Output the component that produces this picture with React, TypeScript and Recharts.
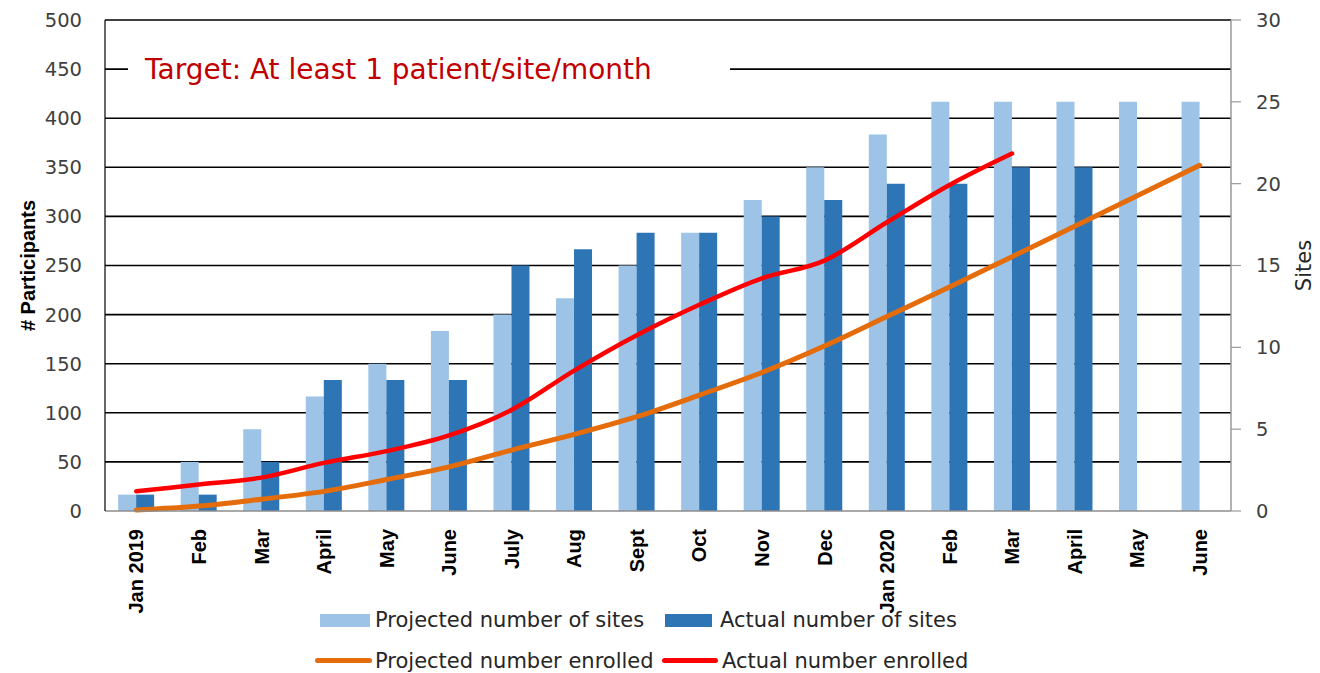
import React from 'react';
import {
  ComposedChart,
  Bar,
  Line,
  XAxis,
  YAxis,
  CartesianGrid,
  Legend,
} from 'recharts';

const months = [
  'Jan 2019', 'Feb', 'Mar', 'April', 'May', 'June', 'July', 'Aug', 'Sept',
  'Oct', 'Nov', 'Dec', 'Jan 2020', 'Feb', 'Mar', 'April', 'May', 'June',
];
const projectedSites = [1, 3, 5, 7, 9, 11, 12, 13, 15, 17, 19, 21, 23, 25, 25, 25, 25, 25];
const actualSites = [1, 1, 3, 8, 8, 8, 15, 16, 17, 17, 18, 19, 20, 20, 21, 21, null, null];
const projectedEnrolled = [1, 5, 12, 20, 32, 45, 62, 78, 96, 118, 141, 168, 198, 228, 259, 290, 321, 352];
const actualEnrolled = [20, 27, 34, 49, 61, 77, 103, 143, 179, 210, 237, 255, 294, 332, 364, null, null, null];

const participantTicks = [0, 50, 100, 150, 200, 250, 300, 350, 400, 450, 500];
const siteTicks = [0, 5, 10, 15, 20, 25, 30];

const data = months.map((m, i) => ({
  key: `${m}-${i}`,
  month: m,
  projectedSites: projectedSites[i],
  actualSites: actualSites[i],
  projectedEnrolled: projectedEnrolled[i],
  actualEnrolled: actualEnrolled[i],
}));

const LIGHT = '#9DC3E6';
const DARK = '#2E75B6';
const ORANGE = '#E46C0A';
const RED = '#FF0000';
const FONT = '"DejaVu Sans", sans-serif';
const BOLD_FONT = '"Liberation Sans", Arial, sans-serif';

const MonthTick = (props: any) => {
  const { x, y, payload } = props;
  const label = months[payload.index] ?? payload.value;
  return (
    <g transform={`translate(${x},${y})`}>
      <text
        transform="rotate(-90)"
        x={-16}
        y={0}
        dy="0.36em"
        textAnchor="end"
        fontFamily={BOLD_FONT}
        fontWeight="bold"
        fontSize={20}
        fill="#000"
      >
        {label}
      </text>
    </g>
  );
};

const legendText: React.CSSProperties = {
  position: 'absolute',
  fontFamily: FONT,
  fontSize: 21,
  color: '#262626',
  lineHeight: '24px',
  whiteSpace: 'nowrap',
};

const ChartLegend = () => (
  <div style={{ position: 'relative', width: 1312, height: 70 }}>
    <div style={{ position: 'absolute', left: 312, top: 11, width: 50, height: 13, background: LIGHT }} />
    <div style={{ ...legendText, left: 367, top: 5 }}>Projected number of sites</div>
    <div style={{ position: 'absolute', left: 657, top: 11, width: 47, height: 13, background: DARK }} />
    <div style={{ ...legendText, left: 712, top: 5 }}>Actual number of sites</div>
    <div style={{ position: 'absolute', left: 307, top: 55, width: 57, height: 5, borderRadius: 3, background: ORANGE }} />
    <div style={{ ...legendText, left: 367, top: 46 }}>Projected number enrolled</div>
    <div style={{ position: 'absolute', left: 654, top: 55, width: 56, height: 5, borderRadius: 3, background: RED }} />
    <div style={{ ...legendText, left: 714, top: 46 }}>Actual number enrolled</div>
  </div>
);

export default function App() {
  return (
    <div style={{ position: 'relative', width: 1312, height: 665 }}>
      <ComposedChart
        width={1312}
        height={665}
        data={data}
        margin={{ top: 12, right: 0, bottom: 0, left: 0 }}
        barCategoryGap="21%"
        barGap={0}
      >
        <CartesianGrid
          yAxisId="left"
          vertical={false}
          stroke="#000"
          strokeWidth={1.6}
          horizontalValues={participantTicks.slice(1)}
        />
        <XAxis
          dataKey="key"
          height={92}
          interval={0}
          axisLine={{ stroke: '#8c8c8c', strokeWidth: 1.5 }}
          tickLine={false}
          tickSize={0}
          tick={<MonthTick />}
        />
        <YAxis
          yAxisId="left"
          domain={[0, 500]}
          ticks={participantTicks}
          width={97}
          axisLine={{ stroke: '#000', strokeWidth: 1.2 }}
          tickLine={false}
          tickSize={0}
          tickMargin={23}
          tick={{ fontFamily: FONT, fontSize: 19.5, fill: '#404040' }}
          label={{
            value: '# Participants',
            angle: -90,
            position: 'insideLeft',
            offset: 20,
            style: { textAnchor: 'middle', fontFamily: BOLD_FONT, fontWeight: 'bold', fontSize: 20, fill: '#000' },
          }}
        />
        <YAxis
          yAxisId="right"
          orientation="right"
          domain={[0, 30]}
          ticks={siteTicks}
          width={89}
          axisLine={{ stroke: '#999', strokeWidth: 1.5 }}
          tickLine={{ stroke: '#999', strokeWidth: 1.2 }}
          tickSize={10}
          tickMargin={15}
          tick={{ fontFamily: FONT, fontSize: 19.5, fill: '#404040' }}
          label={{
            value: 'Sites',
            angle: -90,
            position: 'insideRight',
            offset: 16,
            style: { textAnchor: 'middle', fontFamily: FONT, fontSize: 21, fill: '#262626' },
          }}
        />
        <Legend verticalAlign="bottom" height={70} content={() => <ChartLegend />} />
        <Bar yAxisId="right" dataKey="projectedSites" name="Projected number of sites" fill={LIGHT} isAnimationActive={false} />
        <Bar yAxisId="right" dataKey="actualSites" name="Actual number of sites" fill={DARK} isAnimationActive={false} />
        <Line
          yAxisId="left"
          type="monotone"
          dataKey="projectedEnrolled"
          name="Projected number enrolled"
          stroke={ORANGE}
          strokeWidth={5}
          strokeLinecap="round"
          dot={false}
          activeDot={false}
          isAnimationActive={false}
        />
        <Line
          yAxisId="left"
          type="monotone"
          dataKey="actualEnrolled"
          name="Actual number enrolled"
          stroke={RED}
          strokeWidth={4.5}
          strokeLinecap="round"
          dot={false}
          activeDot={false}
          isAnimationActive={false}
        />
      </ComposedChart>
      <div
        style={{
          position: 'absolute',
          left: 120,
          top: 42,
          width: 585,
          paddingLeft: 17,
          height: 40,
          lineHeight: '40px',
          background: '#fff',
          color: '#C00000',
          fontFamily: FONT,
          fontSize: 28,
          whiteSpace: 'nowrap',
        }}
      >
        Target: At least 1 patient/site/month
      </div>
    </div>
  );
}
